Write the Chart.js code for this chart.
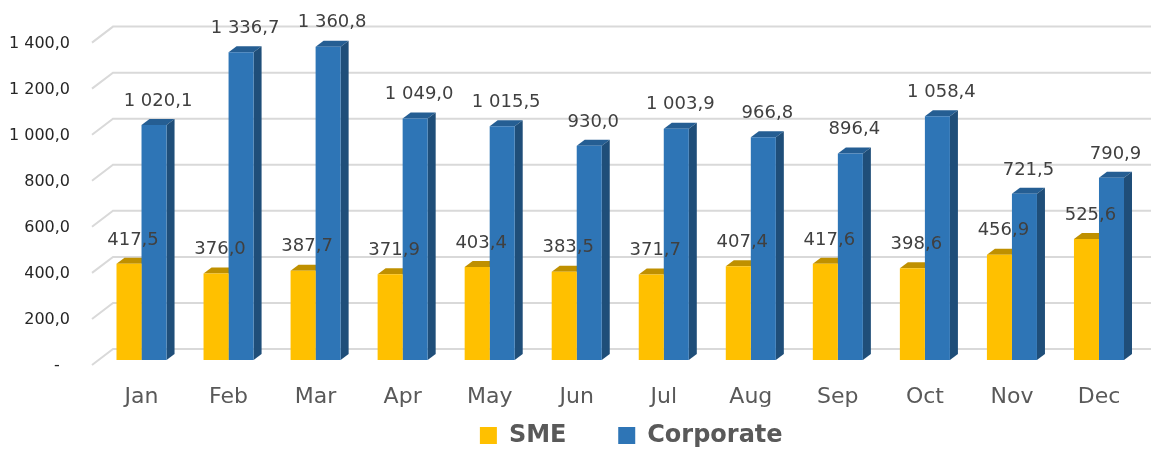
<!DOCTYPE html>
<html>
<head>
<meta charset="utf-8">
<script src="https://cdn.jsdelivr.net/npm/chart.js@4/dist/chart.umd.min.js"></script>
<style>
html,body{margin:0;padding:0;background:#fff;}
#wrap{width:1151px;height:449px;position:relative;}
</style>
</head>
<body>
<div id="wrap"><canvas id="c" width="1151" height="449"></canvas></div>
<script>
const months = ["Jan","Feb","Mar","Apr","May","Jun","Jul","Aug","Sep","Oct","Nov","Dec"];
const smeValues = [417.5, 376.0, 387.7, 371.9, 403.4, 383.5, 371.7, 407.4, 417.6, 398.6, 456.9, 525.6];
const corporateValues = [1020.1, 1336.7, 1360.8, 1049.0, 1015.5, 930.0, 1003.9, 966.8, 896.4, 1058.4, 721.5, 790.9];
const yTicks = [0, 200, 400, 600, 800, 1000, 1200, 1400];

const FONT = "'DejaVu Sans', sans-serif";

function fmt(v){
  if (v === 0) return "-  ";
  const s = v.toFixed(1);
  let [i, d] = s.split('.');
  i = i.replace(/\B(?=(\d{3})+(?!\d))/g, ' ');
  return i + ',' + d;
}

const styles = [
  {front:'#FFC000', top:'#BF9000', side:'#BF9000'},
  {front:'#2E75B6', top:'#255E93', side:'#1F4E79'}
];
const DX = 8, DY = 6;

const threeD = {
  id:'threeD',
  afterLayout(chart){
    if (chart.legend) { chart.legend.left += 11; chart.legend.right += 11; }
  },
  beforeDatasetsDraw(chart){
    const ctx = chart.ctx, y = chart.scales.y, area = chart.chartArea;
    ctx.save();
    ctx.strokeStyle = '#D9D9D9';
    ctx.lineWidth = 2;
    yTicks.forEach(t => {
      const py = y.getPixelForValue(t);
      ctx.beginPath();
      ctx.moveTo(area.left - 6, py + 5);
      ctx.lineTo(area.left + 15, py - 11);
      ctx.lineTo(chart.width, py - 11);
      ctx.stroke();
    });
    chart.data.datasets.forEach((ds, di) => {
      const meta = chart.getDatasetMeta(di);
      const st = styles[di];
      meta.data.forEach(bar => {
        const l = bar.x - bar.width/2, r = bar.x + bar.width/2, t = bar.y, b = bar.base;
        ctx.fillStyle = st.top;
        ctx.beginPath();
        ctx.moveTo(l, t); ctx.lineTo(l+DX, t-DY); ctx.lineTo(r+DX, t-DY); ctx.lineTo(r, t);
        ctx.closePath(); ctx.fill();
        ctx.fillStyle = st.side;
        ctx.beginPath();
        ctx.moveTo(r, t); ctx.lineTo(r+DX, t-DY); ctx.lineTo(r+DX, b-DY); ctx.lineTo(r, b);
        ctx.closePath(); ctx.fill();
      });
    });
    ctx.restore();
  },
  afterDatasetsDraw(chart){
    const ctx = chart.ctx;
    ctx.save();
    ctx.font = "18px " + FONT;
    ctx.fillStyle = '#404040';
    ctx.textAlign = 'center';
    ctx.textBaseline = 'middle';
    chart.data.datasets.forEach((ds, di) => {
      const meta = chart.getDatasetMeta(di);
      meta.data.forEach((bar, i) => {
        ctx.fillText(fmt(ds.data[i]), bar.x + 4, bar.y - 24);
      });
    });
    ctx.restore();
  }
};

new Chart(document.getElementById('c'), {
  type:'bar',
  data:{
    labels: months,
    datasets:[
      {label:'SME', data: smeValues, backgroundColor:'#FFC000', borderWidth:0, categoryPercentage:0.575, barPercentage:1},
      {label:'Corporate', data: corporateValues, backgroundColor:'#2E75B6', borderWidth:0, categoryPercentage:0.575, barPercentage:1}
    ]
  },
  options:{
    responsive:false,
    animation:false,
    layout:{padding:{top:35, right:8.5, left:0, bottom:-8.5}},
    plugins:{
      tooltip:{enabled:false},
      legend:{
        position:'bottom',
        fullSize:false,
        labels:{
          boxWidth:17, boxHeight:17, padding:10,
          color:'#595959',
          font:{family:FONT, size:24, weight:'bold'},
          generateLabels(chart){
            const items = Chart.defaults.plugins.legend.labels.generateLabels(chart);
            items.forEach((it, i) => { if (i === 0) it.text = it.text + '     '; });
            return items;
          }
        }
      }
    },
    scales:{
      x:{
        grid:{display:false, drawTicks:false},
        border:{display:false},
        ticks:{color:'#595959', font:{family:FONT, size:22}, padding:24},
        afterFit(s){ s.height = 53.5; }
      },
      y:{
        min:0, max:1400,
        grid:{display:false, drawTicks:false},
        border:{display:false},
        ticks:{stepSize:200, color:'#262626', font:{family:FONT, size:16}, padding:28, labelOffset:6,
          callback:(v)=>fmt(v)},
        afterFit(s){ s.width = 98; }
      }
    }
  },
  plugins:[threeD]
});
</script>
</body>
</html>
